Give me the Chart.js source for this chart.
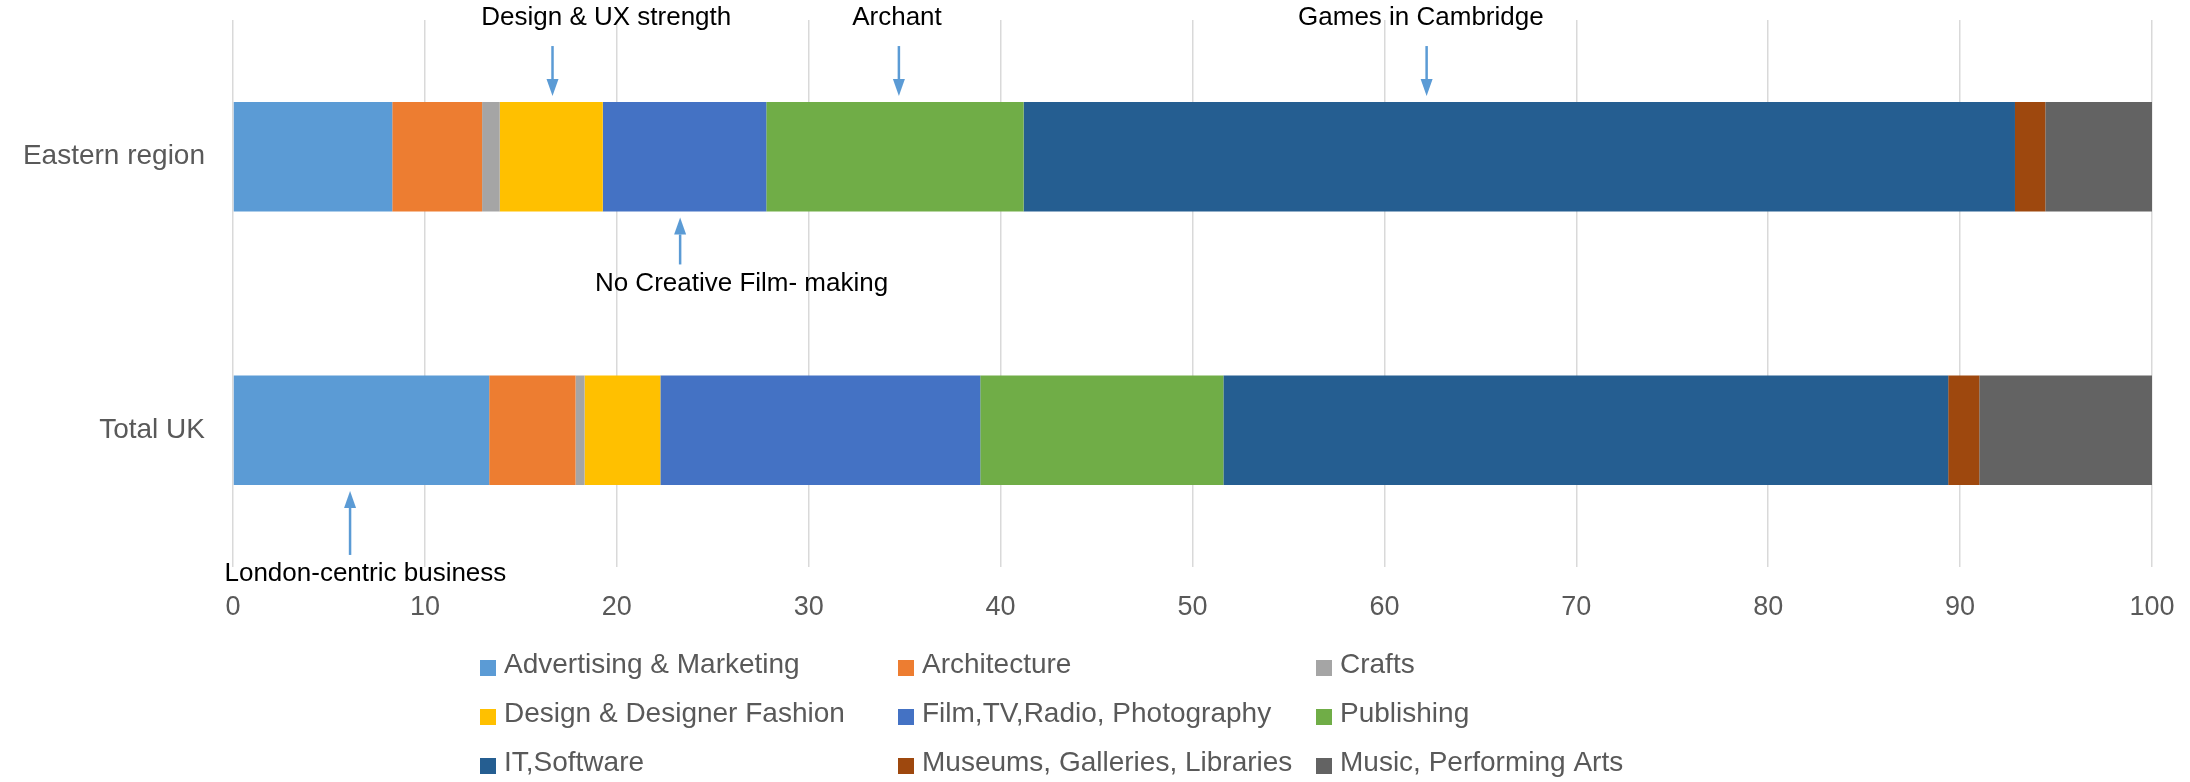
<!DOCTYPE html>
<html>
<head>
<meta charset="utf-8">
<script src="https://cdn.jsdelivr.net/npm/chart.js@4/dist/chart.umd.min.js"></script>
<style>
   html, body { margin: 0; padding: 0; background: #fff; }
   #wrap { width: 2190px; height: 782px; }
</style>
</head>
<body>
<div id="wrap"><canvas id="sectorChart" width="2190" height="782"></canvas></div>
<script>
const categories = ['Eastern region', 'Total UK'];
const sectors = [
   'Advertising & Marketing', 'Architecture', 'Crafts',
   'Design & Designer Fashion', 'Film,TV,Radio, Photography', 'Publishing',
   'IT,Software', 'Museums, Galleries, Libraries', 'Music, Performing Arts'
];
// share of creative businesses by sector, %
const eastern = [8.3, 4.68, 0.92, 5.37, 8.52, 13.41, 51.66, 1.58, 5.56];
const totalUK = [13.35, 4.5, 0.47, 3.95, 16.67, 12.67, 37.77, 1.62, 9.0];
const xTicks = [0, 10, 20, 30, 40, 50, 60, 70, 80, 90, 100];

const colors = ['#5B9BD5', '#ED7D31', '#A5A5A5', '#FFC000', '#4472C4', '#70AD47', '#255E91', '#9E480E', '#636363'];

// callouts: arrow at `at`, text centred on `textAt`
const notes = [
   { text: 'Design & UX strength', row: 0, side: 'above', at: 16.65, textAt: 19.45, stem: 50 },
   { text: 'Archant', row: 0, side: 'above', at: 34.7, textAt: 34.6, stem: 50 },
   { text: 'Games in Cambridge', row: 0, side: 'above', at: 62.2, textAt: 61.9, stem: 50 },
   { text: 'No Creative Film- making', row: 0, side: 'below', at: 23.3, textAt: 26.5, stem: 47 },
   { text: 'London-centric business', row: 1, side: 'below', at: 6.1, textAt: 6.9, stem: 64 }
];

const FONT = "'Liberation Sans', Arial, sans-serif";

function drawArrow(ctx, x, y0, y1){
   // y0 = tail, y1 = tip
   const dir = y1 > y0 ? 1 : -1;
   const head = 17;
   ctx.strokeStyle = '#5B9BD5';
   ctx.fillStyle = '#5B9BD5';
   ctx.lineWidth = 2.5;
   ctx.beginPath();
   ctx.moveTo(x, y0);
   ctx.lineTo(x, y1 - dir * head);
   ctx.stroke();
   ctx.beginPath();
   ctx.moveTo(x, y1);
   ctx.lineTo(x - 6, y1 - dir * head);
   ctx.lineTo(x + 6, y1 - dir * head);
   ctx.closePath();
   ctx.fill();
}

const calloutPlugin = {
   id: 'callouts',
   afterDatasetsDraw(chart){
      const ctx = chart.ctx;
      const xs = chart.scales.x;
      const bar = chart.getDatasetMeta(0).data;
      ctx.save();
      ctx.font = '26px ' + FONT;
      ctx.textAlign = 'center';
      ctx.textBaseline = 'middle';
      notes.forEach(n => {
         const el = bar[n.row];
         const half = el.height / 2;
         const ax = xs.getPixelForValue(n.at);
         const tx = xs.getPixelForValue(n.textAt);
         if(n.side === 'above'){
            const tip = el.y - half - 6;
            drawArrow(ctx, ax, tip - n.stem, tip);
            ctx.fillStyle = '#000';
            ctx.fillText(n.text, tx, tip - n.stem - 28);
         }
         else{
            const tip = el.y + half + 6;
            drawArrow(ctx, ax, tip + n.stem, tip);
            ctx.fillStyle = '#000';
            ctx.fillText(n.text, tx, tip + n.stem + 19);
         }
      });
      ctx.restore();
   }
};

// three column legend under the axis
const gridLegend = {
   id: 'gridLegend',
   afterDraw(chart){
      const ctx = chart.ctx;
      const left = 480, colW = 418, top = 665, rowH = 49;
      ctx.save();
      ctx.font = '28px ' + FONT;
      ctx.textAlign = 'left';
      ctx.textBaseline = 'middle';
      chart.data.datasets.forEach((ds, i) => {
         const x = left + (i % 3) * colW;
         const y = top + Math.floor(i / 3) * rowH;
         ctx.fillStyle = ds.backgroundColor;
         ctx.fillRect(x, y - 5, 16, 16);
         ctx.fillStyle = '#595959';
         ctx.fillText(ds.label, x + 24, y);
      });
      ctx.restore();
   }
};

const datasets = sectors.map((s, i) => ({
   label: s,
   data: [eastern[i], totalUK[i]],
   backgroundColor: colors[i],
   borderWidth: 0,
   barPercentage: 0.4,
   categoryPercentage: 1
}));

const ctx = document.getElementById('sectorChart').getContext('2d');
const sectorChart = new Chart(ctx, {
   type: 'bar',
   data: { labels: categories, datasets: datasets },
   options: {
      indexAxis: 'y',
      responsive: false,
      animation: false,
      layout: { padding: { top: 20, right: 38, bottom: 155, left: 0 } },
      plugins: {
         legend: { display: false },
         tooltip: { enabled: false }
      },
      scales: {
         x: {
            stacked: true,
            min: 0,
            max: 100,
            afterBuildTicks: axis => { axis.ticks = xTicks.map(v => ({ value: v })); },
            afterFit: axis => {
               axis.height = 60;
               axis.paddingLeft = 0;
               axis.paddingRight = 0;
            },
            grid: { color: '#D9D9D9', lineWidth: 1.5, drawTicks: false },
            border: { display: false },
            ticks: { color: '#595959', font: { family: FONT, size: 27 }, padding: 24, maxRotation: 0 }
         },
         y: {
            stacked: true,
            afterFit: axis => {
               axis.width = 233;
               axis.paddingTop = 0;
               axis.paddingBottom = 0;
            },
            grid: { display: false, drawTicks: false },
            border: { display: false },
            ticks: { color: '#595959', font: { family: FONT, size: 28 }, padding: 28 }
         }
      }
   },
   plugins: [calloutPlugin, gridLegend]
});
</script>
</body>
</html>
